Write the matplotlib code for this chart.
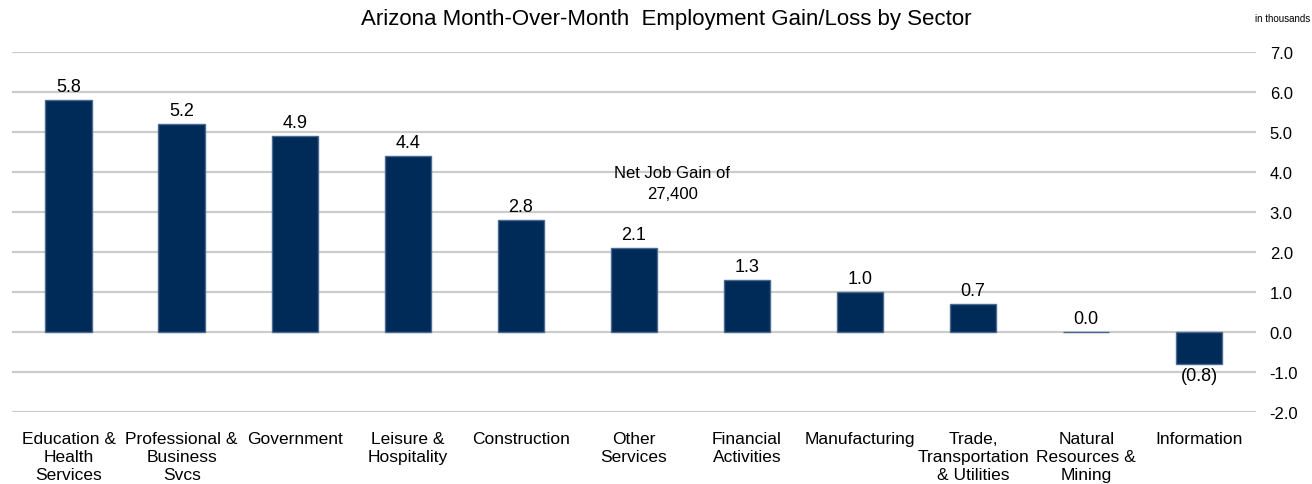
import matplotlib.pyplot as plt
import numpy as np

plt.rcParams['font.family'] = ['Liberation Sans', 'DejaVu Sans']

sectors = ['Education &\nHealth\nServices', 'Professional &\nBusiness\nSvcs', 'Government',
           'Leisure &\nHospitality', 'Construction', 'Other\nServices', 'Financial\nActivities',
           'Manufacturing', 'Trade,\nTransportation\n& Utilities', 'Natural\nResources &\nMining',
           'Information']
change = [5.8, 5.2, 4.9, 4.4, 2.8, 2.1, 1.3, 1.0, 0.7, 0.0, -0.8]
y_ticks = np.arange(-2, 8, 1)

fig = plt.figure(figsize=(13.12, 4.85), dpi=100)
ax = fig.add_axes([0.0092, 0.1485, 0.948, 0.742])

x = np.arange(len(sectors))
ax.bar(x, change, width=0.41, color='#002a57', edgecolor='#4a6a8f', linewidth=1, zorder=3)

for xi, v in zip(x, change):
    if v < 0:
        ax.text(xi, v - 0.08, '({:.1f})'.format(abs(v)), ha='center', va='top', fontsize=13)
    else:
        ax.text(xi, v + 0.12, '{:.1f}'.format(v), ha='center', va='bottom', fontsize=13)

ax.set_xlim(-0.5, len(sectors) - 0.5)
ax.set_ylim(-2, 7)
ax.set_yticks(y_ticks)
ax.set_yticklabels(['{:.1f}'.format(t) for t in y_ticks], fontsize=12)
ax.yaxis.tick_right()
ax.tick_params(axis='y', length=0, pad=10)
ax.set_xticks(x)
ax.set_xticklabels(sectors, fontsize=12.5, linespacing=1.25)
ax.tick_params(axis='x', length=0, pad=14)
ax.grid(axis='y', color='#cccccc', linewidth=1.6, zorder=0)
for s in ax.spines.values():
    s.set_visible(False)

ax.text(5.34, 3.72, 'Net Job Gain of\n27,400', ha='center', va='center', fontsize=12, linespacing=1.5)

fig.text(666 / 1312, 1 - 20 / 485, 'Arizona Month-Over-Month  Employment Gain/Loss by Sector',
         ha='center', va='center', fontsize=16)
fig.text(0.999, 1 - 19 / 485, 'in thousands', ha='right', va='center', fontsize=7)

fig.savefig('out.png', dpi=100)
